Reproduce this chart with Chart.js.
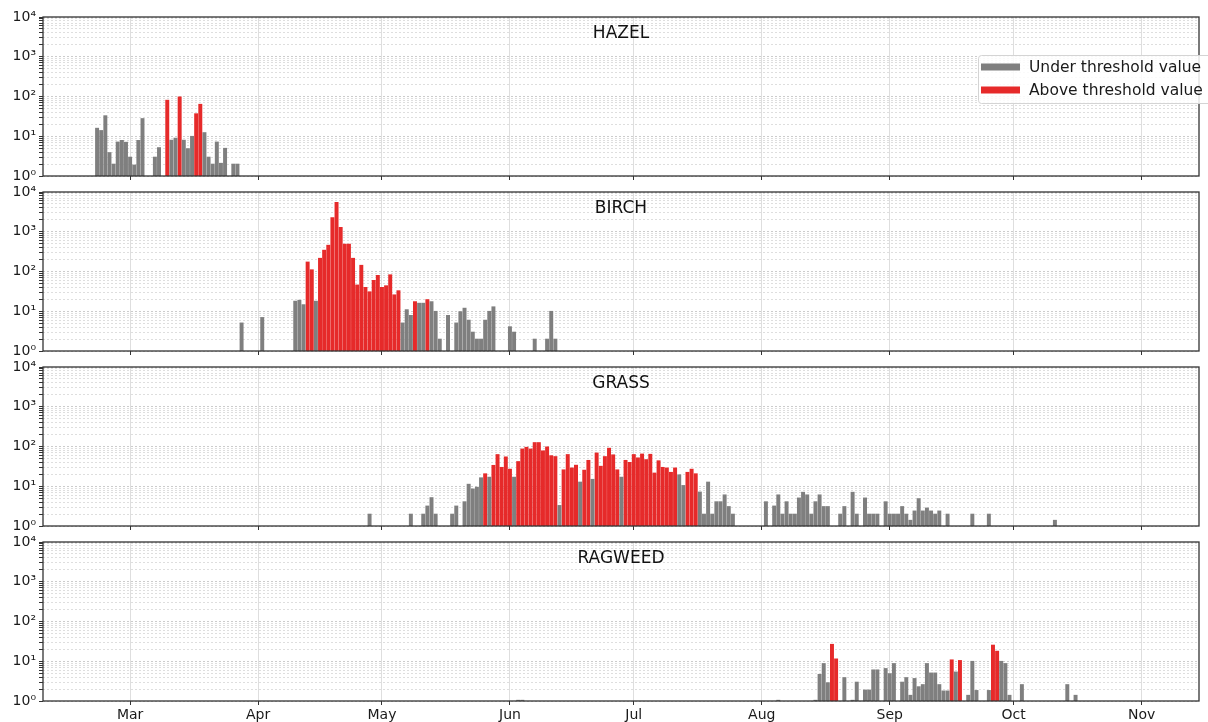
<!DOCTYPE html>
<html>
<head>
<meta charset="utf-8">
<script src="https://cdn.jsdelivr.net/npm/chart.js@4.4.1/dist/chart.umd.min.js"></script>
<style>
  html, body { margin: 0; padding: 0; background: #fff; }
  #wrap { position: relative; width: 1208px; height: 722px; overflow: hidden; }
  #wrap canvas { position: absolute; left: 0; }
</style>
</head>
<body>
<div id="wrap">
  <canvas id="c0" width="1208" height="190" style="top:0px"></canvas>
  <canvas id="c1" width="1208" height="190" style="top:175px"></canvas>
  <canvas id="c2" width="1208" height="190" style="top:350px"></canvas>
  <canvas id="c3" width="1208" height="197" style="top:525px"></canvas>
</div>
<script>
// days counted from 1 March
const monthStarts = [0, 31, 61, 92, 122, 153, 184, 214, 245];
const monthLabels = ['Mar', 'Apr', 'May', 'Jun', 'Jul', 'Aug', 'Sep', 'Oct', 'Nov'];
const dayMin = -21.1;
const dayMax = 258.9;

const seriesLabels = ['Under threshold value', 'Above threshold value'];
const seriesColors = ['#7f7f7f', '#e62a2a'];

const hazelStart = -8;
const hazelValues = [
  16, 14, 33, 3.9, 2, 7.2, 7.9, 7.1, 3, 1.9,
  7.9, 28, null, null, 3, 5.2, null, 81, 8, 9,
  98, 8, 4.9, 10, 37, 64, 12.4, 3, 2, 7.2,
  2.1, 5, null, 2, 2
];
const hazelAbove = [9, 12, 16, 17];

const birchStart = 27;
const birchValues = [
  5.1, null, null, null, null, 7, null, null, null, null,
  null, null, null, 18, 19, 14.7, 174, 111, 18, 216,
  345, 460, 2280, 5470, 1290, 490, 490, 216, 46, 144,
  40, 31, 60, 80, 40, 44, 83, 26, 33, 5.1,
  11, 7.9, 17.5, 16, 16, 19.7, 17.5, 10, 2, null,
  7.9, null, 5.1, 9.8, 12, 6, 3, 2, 2, 6,
  10, 13, null, null, null, 4.1, 3, null, null, null,
  null, 2, null, null, 2, 10, 2
];
const birchAbove = [43, 44, 46, 47, 48, 49, 50, 51, 52, 53, 54, 55, 56, 57, 58, 59,
  60, 61, 62, 63, 64, 65, 69, 72];

const grassStart = 58;
const grassValues = [
  2, null, null, null, null, null, null, null, null, null,
  2, null, null, 2, 3.2, 5.2, 2, null, null, null,
  2, 3.2, null, 4.1, 11.3, 8.6, 9.5, 16.4, 20.7, 17,
  33.7, 63, 30, 55, 27, 17, 42, 87, 96, 87,
  126, 126, 78, 98, 59, 56, 3.3, 26, 63, 29,
  34, 12.8, 25.5, 45, 15, 69, 32, 56, 91, 62,
  26, 17, 45, 40, 63, 52, 65, 47, 64, 21.6,
  44, 30, 29, 22.5, 29, 19.5, 10.5, 22.5, 27, 20.7,
  7.2, 2, 12.8, 2, 4.1, 4.1, 6.1, 3.1, 2, null,
  null, null, null, null, null, null, 4.1, null, 3.2, 6.1,
  2, 4.1, 2, 2, 5.1, 7.1, 6.1, 2, 4.1, 6.1,
  3.1, 3.1, null, null, 2, 3.1, null, 7.1, 2, null,
  5.1, 2, 2, 2, null, 4.1, 2, 2, 2, 3.1,
  2, 1.4, 2.4, 4.9, 2.4, 2.85, 2.4, 2, 2.4, null,
  2, null, null, null, null, null, 2, null, null, null,
  2, null, null, null, null, null, null, null, null, null,
  null, null, null, null, null, null, 1.4
];
const grassAbove = [86, 88, 89, 90, 91, 92, 94, 95, 96, 97, 98, 99, 100, 101, 102, 103,
  105, 106, 107, 108, 110, 111, 113, 114, 115, 116, 117, 118,
  120, 121, 122, 123, 124, 125, 126, 127, 128, 129, 130, 131, 132, 135, 136, 137];

const ragweedStart = 94;
const ragweedValues = [
  1.05, 1.05,
  null, null, null, null, null, null, null, null, null, null,
  null, null, null, null, null, null, null, null, null, null,
  null, null, null, null, null, null, null, null, null, null,
  null, null, null, null, null, null, null, null, null, null,
  null, null, null, null, null, null, null, null, null, null,
  null, null, null, null, null, null, null, null, null, null,
  null, 1.05, null, null, null, null, null, null, null, null,
  1.05, 4.7, 8.8, 2.9, 26.8, 11.5, null, 3.9, null, 1.05,
  3, null, 1.9, 1.9, 6.1, 6.1, null, 6.6, 4.9, 8.8,
  null, 3, 3.9, 1.4, 3.7, 2.3, 2.6, 8.8, 5.1, 5.1,
  2.6, 1.8, 1.8, 10.9, 5.4, 10.5, null, 1.4, 10, 1.85,
  null, null, 1.85, 25.6, 18, 10, 8.8, 1.4, null, null,
  2.6, null, null, null, null, null, null, null, null, null,
  null, 2.6, null, 1.4
];
const ragweedAbove = [170, 171, 199, 201, 209, 210];

const FONT = 'DejaVu Sans';
const SUP = { 0: '\u2070', 1: '\u00b9', 2: '\u00b2', 3: '\u00b3', 4: '\u2074' };

function points(start, values, above, wantAbove) {
  const pts = [];
  values.forEach((v, i) => {
    if (v == null) return;
    const day = start + i;
    if (above.includes(day) === wantAbove) pts.push({ x: day, y: v });
  });
  return pts;
}

const panelPlugin = {
  id: 'panel',
  afterDraw(chart, args, opts) {
    const { ctx, chartArea: a } = chart;
    ctx.save();
    ctx.strokeStyle = '#333';
    ctx.lineWidth = 1.3;
    ctx.strokeRect(a.left, a.top, a.right - a.left, a.bottom - a.top);
    ctx.fillStyle = '#111';
    ctx.font = '17px "' + FONT + '"';
    ctx.textAlign = 'center';
    ctx.textBaseline = 'middle';
    ctx.fillText(opts.title, (a.left + a.right) / 2, a.top + 17);
    if (opts.legend) {
      const x = 978, y = 55, w = 240, h = 48;
      ctx.fillStyle = 'rgba(255,255,255,0.85)';
      ctx.strokeStyle = '#d4d4d4';
      ctx.lineWidth = 1;
      ctx.beginPath();
      ctx.roundRect(x + 0.5, y + 0.5, w, h, 3);
      ctx.fill();
      ctx.stroke();
      ctx.font = '15.5px "' + FONT + '"';
      ctx.textAlign = 'left';
      chart.data.datasets.forEach((ds, i) => {
        const cy = y + 12 + i * 23;
        ctx.fillStyle = ds.backgroundColor;
        ctx.fillRect(x + 3, cy - 3.5, 39, 7);
        ctx.fillStyle = '#1a1a1a';
        ctx.fillText(ds.label, x + 51, cy + 1);
      });
    }
    ctx.restore();
  }
};

function makePanel(id, title, start, values, above, last, legend) {
  const yTicks = [];
  for (let e = 0; e < 4; e++) {
    for (let m = 1; m < 10; m++) yTicks.push({ value: m * Math.pow(10, e), major: m === 1 });
  }
  yTicks.push({ value: 10000, major: true });

  new Chart(document.getElementById(id), {
    type: 'bar',
    data: {
      datasets: [0, 1].map(k => ({
        label: seriesLabels[k],
        data: points(start, values, above, k === 1),
        backgroundColor: seriesColors[k],
        borderWidth: 0,
        barThickness: 3.3,
        grouped: false
      }))
    },
    options: {
      responsive: false,
      animation: false,
      events: [],
      layout: { padding: { top: 17, right: 9, left: 0, bottom: 0 } },
      plugins: {
        legend: { display: false },
        tooltip: { enabled: false },
        panel: { title, legend }
      },
      scales: {
        x: {
          type: 'linear',
          min: dayMin,
          max: dayMax,
          offset: false,
          afterBuildTicks: s => { s.ticks = monthStarts.map(v => ({ value: v })); },
          afterFit: s => { s.height = last ? 21 : 14; },
          grid: { offset: false, color: '#dedede', lineWidth: 1, tickColor: '#333', tickLength: 4 },
          border: { display: false },
          ticks: {
            autoSkip: false,
            maxRotation: 0,
            padding: 2,
            color: last ? '#1a1a1a' : 'rgba(0,0,0,0)',
            font: { family: FONT, size: 14 },
            callback: v => monthLabels[monthStarts.indexOf(v)] || ''
          }
        },
        y: {
          type: 'logarithmic',
          min: 1,
          max: 10000,
          afterBuildTicks: s => { s.ticks = yTicks.map(t => ({ ...t })); },
          afterFit: s => { s.width = 43; },
          grid: {
            color: c => (c.tick && c.tick.major) ? 'rgba(0,0,0,0.2)' : 'rgba(0,0,0,0.13)',
            lineWidth: 1,
            tickColor: '#333',
            tickLength: 4
          },
          border: { display: false, dash: [2, 2] },
          ticks: {
            autoSkip: false,
            padding: 3,
            color: '#1a1a1a',
            font: { family: FONT, size: 14 },
            callback: v => {
              const e = Math.round(Math.log10(v));
              return Math.abs(Math.pow(10, e) - v) < 1e-9 ? '10' + SUP[e] : '';
            }
          }
        }
      }
    },
    plugins: [panelPlugin]
  });
}

makePanel('c0', 'HAZEL', hazelStart, hazelValues, hazelAbove, false, true);
makePanel('c1', 'BIRCH', birchStart, birchValues, birchAbove, false, false);
makePanel('c2', 'GRASS', grassStart, grassValues, grassAbove, false, false);
makePanel('c3', 'RAGWEED', ragweedStart, ragweedValues, ragweedAbove, true, false);
</script>
</body>
</html>
